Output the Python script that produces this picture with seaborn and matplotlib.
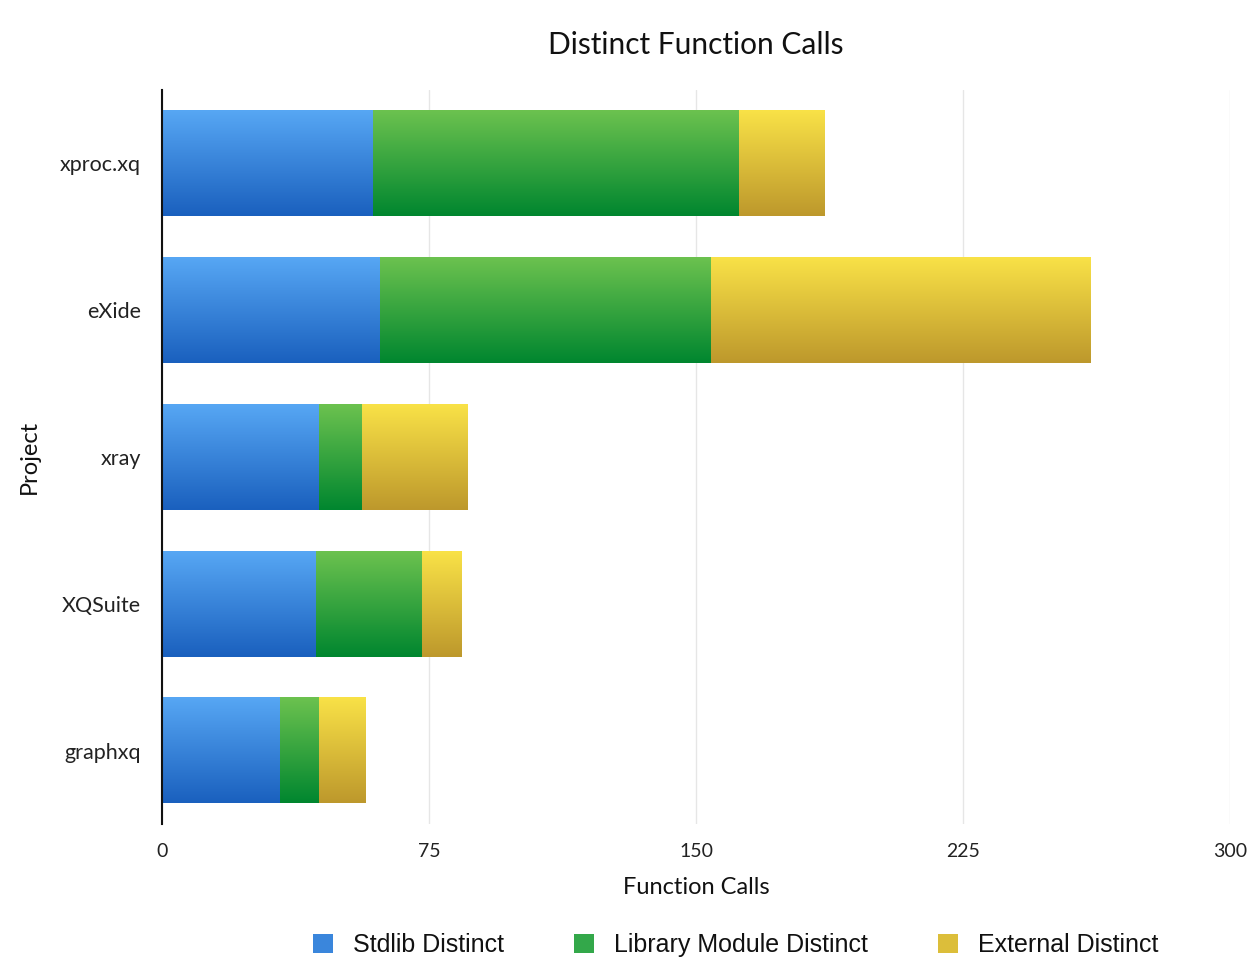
import matplotlib
matplotlib.use("Agg")
import matplotlib.pyplot as plt
import seaborn as sns
import numpy as np
import pandas as pd
from matplotlib.colors import LinearSegmentedColormap
from matplotlib.patches import Patch

projects = ["xproc.xq", "eXide", "xray", "XQSuite", "graphxq"]
stdlib = [59, 61, 44, 43, 33]
library = [103, 93, 12, 30, 11]
external = [24, 107, 30, 11, 13]
series = ["Stdlib Distinct", "Library Module Distinct", "External Distinct"]
xticks = [0, 75, 150, 225, 300]

grad = {
    "Stdlib Distinct": ("#57a7f4", "#1a60be"),
    "Library Module Distinct": ("#6cc24f", "#00862f"),
    "External Distinct": ("#f9e247", "#bd982c"),
}
solid = {"Stdlib Distinct": "#3a86dc", "Library Module Distinct": "#33a84a",
         "External Distinct": "#dcbe3a"}

sns.set_theme(style="white")
plt.rcParams['font.family'] = ['Lato', 'DejaVu Sans']

fig = plt.figure(figsize=(12.48, 9.73), dpi=100)
ax = fig.add_axes([162/1248, 1-824/973, (1230-162)/1248, (824-90)/973])

df = pd.DataFrame({"Project": projects, "s": stdlib, "l": library, "e": external})
df["c1"] = df["s"]
df["c2"] = df["s"] + df["l"]
df["c3"] = df["s"] + df["l"] + df["e"]

layers = [("c3", "External Distinct"), ("c2", "Library Module Distinct"), ("c1", "Stdlib Distinct")]
bars_by_series = {}
for col, name in layers:
    before = len(ax.patches)
    sns.barplot(data=df, x=col, y="Project", order=projects, color="white",
                width=0.72, ax=ax, orient="h", linewidth=0)
    bars_by_series[name] = ax.patches[before:]

def grad_cmap(top, bottom):
    return LinearSegmentedColormap.from_list("g", [bottom, top])

for col, name in layers:
    prev = {"c3": "c2", "c2": "c1", "c1": None}[col]
    cmap = grad_cmap(*grad[name])
    for i, p in enumerate(bars_by_series[name]):
        p.set_facecolor("none")
        p.set_edgecolor("none")
        x1 = p.get_x() + p.get_width()
        x0 = 0 if prev is None else df[prev].iloc[i]
        y0 = p.get_y()
        y1 = y0 + p.get_height()
        g = np.linspace(1, 0, 256).reshape(-1, 1)
        ax.imshow(g, cmap=cmap, aspect="auto", extent=(x0, x1, y1, y0),
                  origin="upper", zorder=3, interpolation="bilinear")

ax.set_xlim(0, 300)
ax.set_ylim(4.5, -0.5)
ax.set_xticks(xticks)
ax.set_xticklabels([str(v) for v in xticks], fontsize=14, color="#222222")
ax.tick_params(axis="y", labelsize=15.5, labelcolor="#222222", length=0, pad=15)
ax.tick_params(axis="x", length=0, pad=14)
ax.grid(axis="x", color="#e6e6e6", linewidth=1, zorder=0)
ax.set_axisbelow(True)
for s in ["top", "right", "bottom"]:
    ax.spines[s].set_visible(False)
ax.spines["left"].set_color("#111111")
ax.spines["left"].set_linewidth(1.5)
ax.spines["left"].set_zorder(5)

ax.set_xlabel("Function Calls", fontsize=17, color="#111111", labelpad=12)
ax.set_ylabel("Project", fontsize=17, color="#111111")
ax.yaxis.set_label_coords(-0.114, 0.5)
fig.text(696/1248, 1-45/973, "Distinct Function Calls", ha="center", va="center",
         fontsize=21.5, color="#111111")

handles = [Patch(facecolor=solid[n], edgecolor="none", label=n) for n in series]
leg = fig.legend(handles=handles, loc="center", bbox_to_anchor=(736/1248, 1-945/973),
                 ncol=3, frameon=False, handlelength=0.8, handleheight=0.8,
                 columnspacing=2.8, handletextpad=0.8,
                 prop={"family": "Liberation Sans", "size": 18})
for t in leg.get_texts():
    t.set_color("#111111")

fig.savefig("out.png", dpi=100, facecolor="white")
